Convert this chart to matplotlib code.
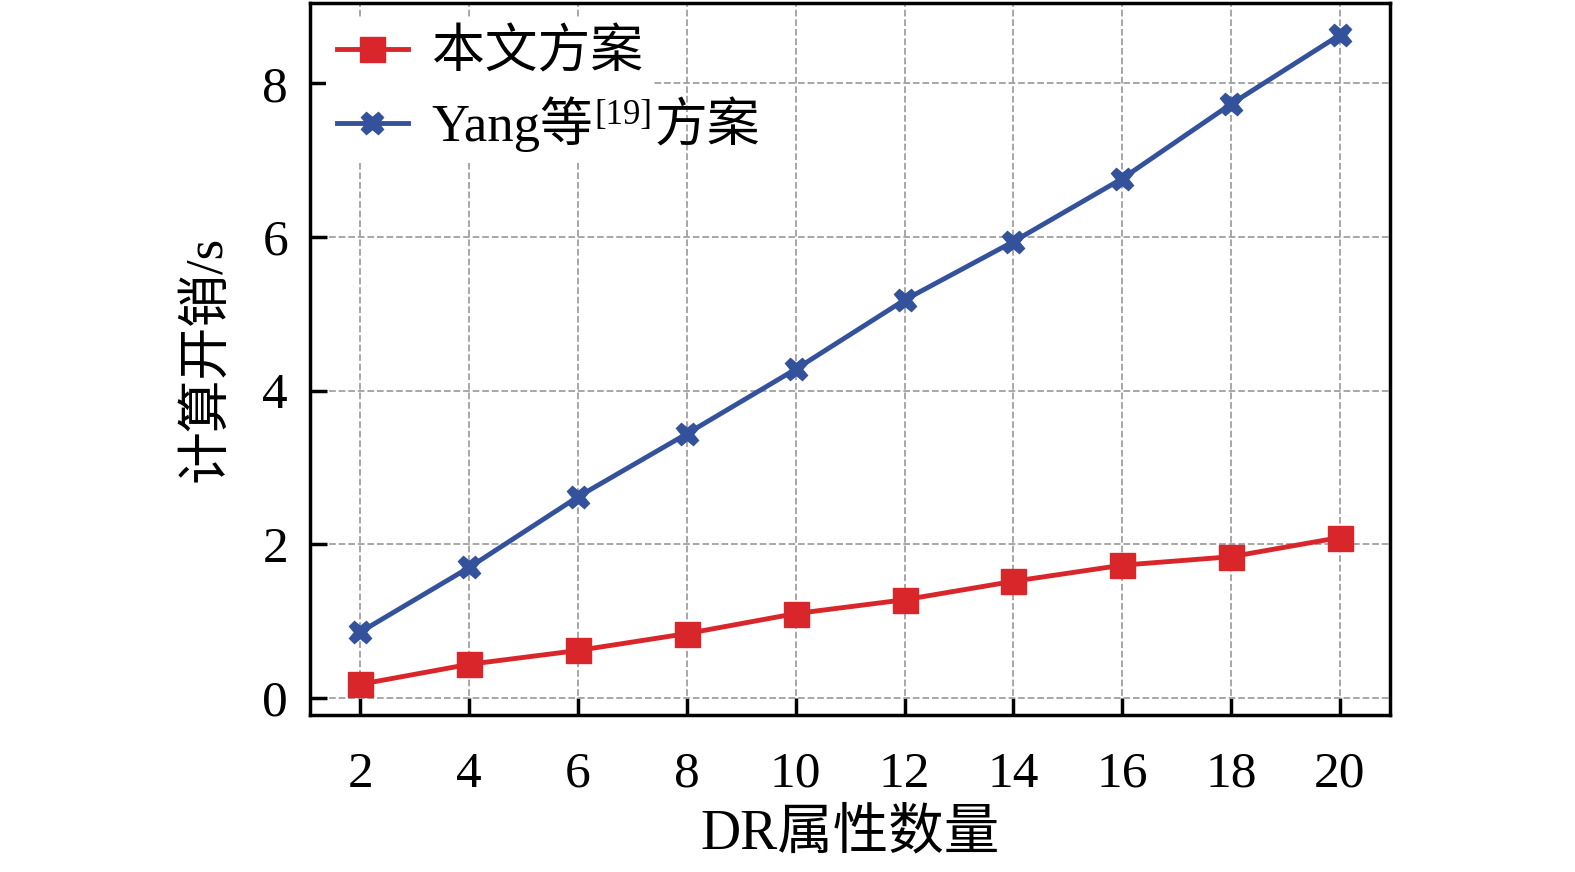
import matplotlib
matplotlib.use('Agg')
import matplotlib.pyplot as plt

plt.rcParams['font.family'] = ['Liberation Serif', 'Noto Sans CJK SC']

# 数据
attr_num = [2, 4, 6, 8, 10, 12, 14, 16, 18, 20]
ours = [0.18, 0.44, 0.62, 0.84, 1.10, 1.28, 1.52, 1.73, 1.84, 2.09]
yang = [0.86, 1.70, 2.62, 3.44, 4.28, 5.18, 5.94, 6.76, 7.73, 8.63]

fig = plt.figure(figsize=(15.75, 8.72), dpi=100)
ax = fig.add_axes([0.197, 0.18, 0.6855, 0.817])

ax.plot(attr_num, ours, color='#d9262b', lw=3.5, marker='s', ms=18,
        label='本文方案', zorder=3)
ax.plot(attr_num, yang, color='#34519c', lw=3.5, marker='X', ms=16,
        label='Yang等', zorder=3)

ax.set_xlim(1.08, 20.92)
ax.set_ylim(-0.22, 9.05)
ax.set_xticks(attr_num)
ax.set_yticks([0, 2, 4, 6, 8])
ax.grid(True, ls='--', color='#a0a0a0', lw=1.3)
ax.tick_params(direction='in', length=12, width=2.5, labelsize=37)
ax.tick_params(axis='x', pad=26)
ax.tick_params(axis='y', pad=16)
for s in ax.spines.values():
    s.set_linewidth(2.5)

ax.set_xlabel('DR属性数量', fontsize=40, labelpad=8)
ax.set_ylabel('计算开销/s', fontsize=38, labelpad=22)

leg = ax.legend(loc='upper left', fontsize=38, frameon=True, fancybox=False,
                edgecolor='none', facecolor='white', framealpha=1,
                handlelength=1.35, borderpad=0.2, labelspacing=0.35,
                borderaxespad=0.3, handletextpad=0.45)
leg.set_zorder(5)

# 上标 [19] 及其后文字
t = leg.get_texts()[1]
sup = ax.annotate('[19]', xy=(1, 1), xycoords=t, xytext=(1, -2),
                  textcoords='offset points', fontsize=25,
                  ha='left', va='top', zorder=6)
ax.annotate('方案', xy=(1, 0), xycoords=(sup, t), xytext=(1, 0),
            textcoords='offset points', fontsize=38,
            ha='left', va='bottom', zorder=6)

fig.savefig('out.png', dpi=100)
